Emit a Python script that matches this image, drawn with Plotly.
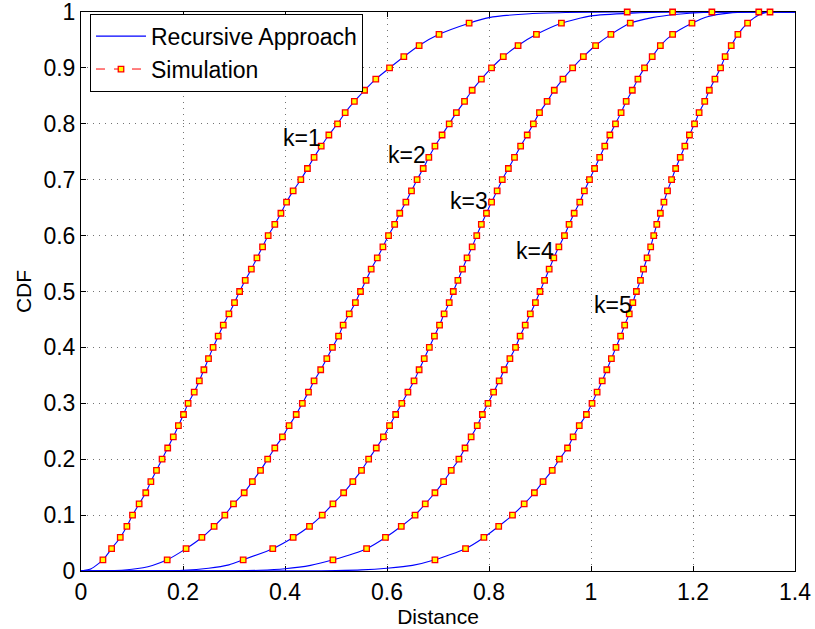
import plotly.graph_objects as go

# CDF levels of the simulation markers
levels = [0.02, 0.04, 0.06, 0.08, 0.10, 0.12, 0.14, 0.16, 0.18, 0.20,
          0.22, 0.24, 0.26, 0.28, 0.30, 0.32, 0.34, 0.36, 0.38, 0.40,
          0.42, 0.44, 0.46, 0.48, 0.50, 0.52, 0.54, 0.56, 0.58, 0.60,
          0.62, 0.64, 0.66, 0.68, 0.70, 0.72, 0.74, 0.76, 0.78, 0.80,
          0.82, 0.84, 0.86, 0.88, 0.90, 0.92, 0.94, 0.96, 0.98, 1.00]

# Simulation: distance at each CDF level, for k = 1..5
sim_k1 = [0.043, 0.060, 0.077, 0.090, 0.101, 0.114, 0.127, 0.137, 0.148, 0.159,
          0.170, 0.181, 0.191, 0.201, 0.210, 0.222, 0.232, 0.241, 0.250, 0.259,
          0.269, 0.279, 0.290, 0.301, 0.311, 0.322, 0.334, 0.345, 0.356, 0.367,
          0.380, 0.392, 0.403, 0.416, 0.431, 0.444, 0.457, 0.471, 0.486, 0.503,
          0.518, 0.536, 0.556, 0.578, 0.605, 0.633, 0.663, 0.702, 0.761, 1.071]
sim_k2 = [0.169, 0.206, 0.237, 0.261, 0.282, 0.299, 0.320, 0.336, 0.352, 0.366,
          0.380, 0.395, 0.408, 0.422, 0.434, 0.446, 0.457, 0.470, 0.482, 0.493,
          0.505, 0.514, 0.526, 0.538, 0.548, 0.559, 0.569, 0.581, 0.592, 0.603,
          0.615, 0.625, 0.637, 0.648, 0.659, 0.671, 0.682, 0.694, 0.708, 0.722,
          0.736, 0.752, 0.767, 0.785, 0.805, 0.828, 0.857, 0.893, 0.942, 1.160]
sim_k3 = [0.318, 0.376, 0.416, 0.448, 0.473, 0.494, 0.515, 0.533, 0.550, 0.564,
          0.579, 0.593, 0.605, 0.617, 0.629, 0.641, 0.653, 0.663, 0.673, 0.683,
          0.693, 0.703, 0.712, 0.722, 0.730, 0.739, 0.748, 0.757, 0.767, 0.776,
          0.785, 0.795, 0.805, 0.816, 0.826, 0.838, 0.850, 0.862, 0.875, 0.887,
          0.899, 0.914, 0.928, 0.945, 0.964, 0.985, 1.009, 1.039, 1.077, 1.237]
sim_k4 = [0.494, 0.560, 0.597, 0.628, 0.655, 0.675, 0.694, 0.711, 0.726, 0.741,
          0.753, 0.765, 0.777, 0.787, 0.798, 0.809, 0.820, 0.830, 0.841, 0.852,
          0.861, 0.871, 0.881, 0.891, 0.900, 0.909, 0.918, 0.927, 0.937, 0.948,
          0.957, 0.967, 0.978, 0.987, 0.997, 1.007, 1.017, 1.027, 1.037, 1.048,
          1.059, 1.069, 1.081, 1.092, 1.105, 1.120, 1.136, 1.160, 1.198, 1.329]
sim_k5 = [0.694, 0.754, 0.790, 0.819, 0.846, 0.869, 0.889, 0.906, 0.924, 0.938,
          0.954, 0.965, 0.977, 0.991, 1.002, 1.012, 1.022, 1.031, 1.040, 1.049,
          1.058, 1.066, 1.075, 1.082, 1.089, 1.097, 1.103, 1.110, 1.117, 1.123,
          1.129, 1.136, 1.143, 1.150, 1.158, 1.166, 1.175, 1.184, 1.193, 1.203,
          1.212, 1.223, 1.232, 1.243, 1.254, 1.263, 1.275, 1.288, 1.307, 1.351]

# Recursive approach curve: extra read points below and above the marker range
head_x = {1: [0.0, 0.02], 2: [0.0, 0.05, 0.10, 0.14], 3: [0.0, 0.15, 0.20, 0.25, 0.29],
          4: [0.0, 0.30, 0.35, 0.40, 0.45], 5: [0.0, 0.45, 0.50, 0.55, 0.60, 0.65]}
head_y = {1: [0.0, 0.004], 2: [0.0, 0.0002, 0.003, 0.010], 3: [0.0, 0.0003, 0.0012, 0.005, 0.011],
          4: [0.0, 0.0005, 0.0013, 0.004, 0.010], 5: [0.0, 0.0003, 0.0008, 0.002, 0.005, 0.010]}
tail_x = {1: [0.80, 0.88, 0.95, 1.05, 1.40], 2: [1.00, 1.08, 1.15, 1.40],
          3: [1.12, 1.17, 1.22, 1.28, 1.40], 4: [1.23, 1.27, 1.31, 1.40], 5: [1.33, 1.35, 1.40]}
tail_y = {1: [0.990, 0.997, 0.999, 1.0, 1.0], 2: [0.993, 0.998, 1.0, 1.0],
          3: [0.990, 0.996, 0.999, 1.0, 1.0], 4: [0.992, 0.998, 1.0, 1.0], 5: [0.995, 1.0, 1.0]}

sims = {1: sim_k1, 2: sim_k2, 3: sim_k3, 4: sim_k4, 5: sim_k5}

# curve labels
label_text = ["k=1", "k=2", "k=3", "k=4", "k=5"]
label_x = [0.434, 0.639, 0.760, 0.891, 1.043]
label_y = [0.774, 0.745, 0.662, 0.572, 0.476]

FONT = "Liberation Sans, Arial, Helvetica, sans-serif"

fig = go.Figure()

for k in range(1, 6):
    lx = head_x[k] + sims[k][:-1] + tail_x[k]
    ly = head_y[k] + levels[:-1] + tail_y[k]
    fig.add_trace(go.Scatter(
        x=lx, y=ly, mode="lines",
        line=dict(color="#0000FF", width=1.1, shape="spline", smoothing=0.6),
        name="Recursive Approach", legendgroup="a", showlegend=(k == 1),
        hoverinfo="skip"))

for k in range(1, 6):
    fig.add_trace(go.Scatter(
        x=sims[k], y=levels, mode="markers",
        marker=dict(symbol="square", size=5.5, color="#FFFF00",
                    line=dict(color="#FF0000", width=1.3)),
        name="Simulation", showlegend=False, cliponaxis=False))

# legend entry for the simulation (dashed red line with marker)
fig.add_trace(go.Scatter(
    x=[None], y=[None], mode="lines+markers",
    line=dict(color="#FF0000", width=1, dash="dash"),
    marker=dict(symbol="square", size=5.5, color="#FFFF00",
                line=dict(color="#FF0000", width=1.3)),
    name="Simulation", legendgroup="b"))

for t, x, y in zip(label_text, label_x, label_y):
    fig.add_annotation(x=x, y=y, text=t, showarrow=False,
                       font=dict(size=23, color="black", family=FONT),
                       xanchor="center", yanchor="middle")

axis_common = dict(
    showline=True, linecolor="black", linewidth=1, mirror="ticks",
    ticks="inside", ticklen=5, tickcolor="black", tickwidth=1,
    showgrid=True, gridcolor="rgba(0,0,0,0.55)", gridwidth=1, griddash="1px,5px",
    zeroline=False, layer="below traces", ticklabeloverflow="allow",
    tickfont=dict(size=23, color="black", family=FONT),
)

fig.update_xaxes(range=[0, 1.4], tickvals=[0, 0.2, 0.4, 0.6, 0.8, 1.0, 1.2, 1.4],
                 ticktext=["0", "0.2", "0.4", "0.6", "0.8", "1", "1.2", "1.4"],
                 title=dict(text="Distance", standoff=2,
                            font=dict(size=21, color="black", family=FONT)),
                 **axis_common)
fig.update_yaxes(range=[0, 1], tickvals=[0, 0.1, 0.2, 0.3, 0.4, 0.5, 0.6, 0.7, 0.8, 0.9, 1.0],
                 ticktext=["0", "0.1", "0.2", "0.3", "0.4", "0.5", "0.6", "0.7", "0.8", "0.9", "1"],
                 title=dict(text="CDF", standoff=6,
                            font=dict(size=21, color="black", family=FONT)),
                 **axis_common)

fig.update_layout(
    width=815, height=629,
    margin=dict(l=81, r=20, t=12, b=58, autoexpand=False),
    paper_bgcolor="white", plot_bgcolor="white",
    font=dict(family=FONT, color="black", size=21),
    legend=dict(x=0.0126, y=0.997, xanchor="left", yanchor="top",
                bgcolor="white", bordercolor="black", borderwidth=1,
                font=dict(size=23, color="black", family=FONT),
                traceorder="grouped", tracegroupgap=0, itemwidth=50),
    showlegend=True,
)

fig.write_html("out.html")
